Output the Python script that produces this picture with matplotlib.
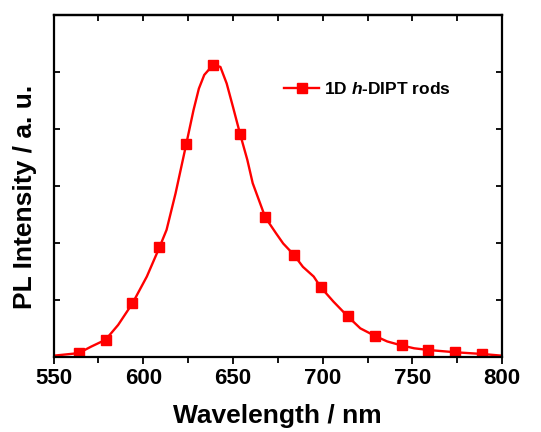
import matplotlib
matplotlib.use("Agg")
import matplotlib.pyplot as plt
from matplotlib.lines import Line2D
from matplotlib.ticker import MultipleLocator

plt.rcParams['font.family'] = 'Liberation Sans'
plt.rcParams['font.weight'] = 'bold'
plt.rcParams['mathtext.fontset'] = 'custom'
plt.rcParams['mathtext.it'] = 'Liberation Sans:italic:bold'
plt.rcParams['mathtext.rm'] = 'Liberation Sans:bold'

# PL spectrum of the 1D h-DIPT rods
wavelength = [550, 564, 571, 579, 586, 594, 602, 609, 613, 618, 624, 628,
              631, 634, 639, 643, 646.5, 650, 654, 658, 661, 668, 674, 678,
              684, 689, 695, 699, 706, 714, 721, 729, 736, 744, 751, 759,
              774, 789, 800]
intensity = [0.02, 0.065, 0.18, 0.30, 0.56, 0.94, 1.41, 1.92, 2.23, 2.87,
             3.74, 4.33, 4.71, 4.95, 5.13, 5.09, 4.80, 4.39, 3.91, 3.46,
             3.05, 2.45, 2.17, 1.99, 1.79, 1.58, 1.41, 1.22, 0.97, 0.71,
             0.50, 0.37, 0.27, 0.20, 0.15, 0.12, 0.08, 0.05, 0.02]

# square symbols every 15 nm
marker_wl = [564, 579, 594, 609, 624, 639, 654, 668, 684, 699, 714, 729,
             744, 759, 774, 789]
marker_int = [0.065, 0.30, 0.94, 1.92, 3.74, 5.13, 3.91, 2.45, 1.79, 1.22,
              0.71, 0.37, 0.20, 0.12, 0.08, 0.05]

label = r"1D $h$-DIPT rods"
red = '#ff0000'

fig = plt.figure(figsize=(5.41, 4.32), dpi=100)
ax = fig.add_axes([0.099, 0.174, 0.829, 0.791])

ax.plot(wavelength, intensity, color=red, linewidth=1.7)
ax.plot(marker_wl, marker_int, linestyle='none', marker='s',
        markersize=7.5, color=red)

ax.set_xlim(550, 800)
ax.set_ylim(0, 6)
ax.xaxis.set_major_locator(MultipleLocator(50))
ax.xaxis.set_minor_locator(MultipleLocator(25))
ax.yaxis.set_major_locator(MultipleLocator(1))
ax.set_yticklabels([])

for s in ax.spines.values():
    s.set_linewidth(1.6)

ax.tick_params(axis='x', which='both', direction='out', top=False,
               width=1.3, labelsize=16, pad=3)
ax.tick_params(axis='x', which='major', length=5)
ax.tick_params(axis='x', which='minor', length=4)
ax.tick_params(axis='y', which='major', direction='in', right=True,
               length=4, width=1.3, left=True, labelleft=False)

# top edge carries inward ticks every 25 nm
sec = ax.secondary_xaxis('top')
sec.xaxis.set_major_locator(MultipleLocator(25))
sec.tick_params(direction='in', length=4, width=1.3, labeltop=False)
sec.spines['top'].set_linewidth(1.6)

ax.set_xlabel('Wavelength / nm', fontsize=19, fontweight='bold', labelpad=11)
ax.set_ylabel('PL Intensity / a. u.', fontsize=19, fontweight='bold')
ax.yaxis.set_label_coords(-0.037, 0.468)

handle = Line2D([], [], color=red, linewidth=1.7, marker='s', markersize=7.5)
ax.legend([handle], [label], loc='center left', bbox_to_anchor=(0.48, 0.784),
          frameon=False, handlelength=2.0, handletextpad=0.3,
          prop={'weight': 'bold', 'size': 12.5})

fig.savefig('out.png', dpi=100)
